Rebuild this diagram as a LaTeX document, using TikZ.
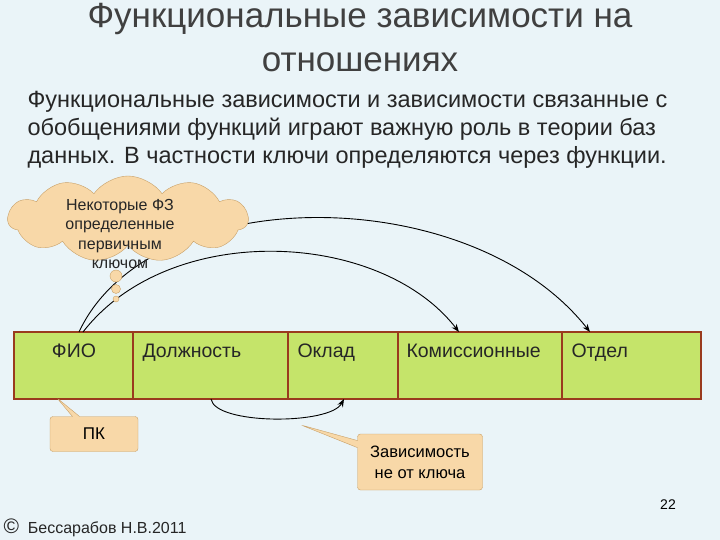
\documentclass[tikz,border=0pt]{standalone}
\usepackage{fontspec}
\setmainfont{Liberation Sans}
\usetikzlibrary{shapes.symbols,shapes.callouts,arrows.meta}
\definecolor{bg}{HTML}{EAF4F8}
\definecolor{cellg}{HTML}{C5E46A}
\definecolor{cellb}{HTML}{9A3A1E}
\definecolor{call}{HTML}{F8D8A8}
\definecolor{callb}{HTML}{C8A068}
\tikzset{
lbl/.style={font=\fontsize{19.5}{21}\selectfont,text=black!85},
arr/.style={-{Stealth[length=8pt,width=6pt]},black,line width=0.9pt}}
\begin{document}
\begin{tikzpicture}[x=1pt,y=-1pt]
\fill[bg] (0,0) rectangle (720,540);
\useasboundingbox (0,0) rectangle (720,540);
\node[font=\fontsize{35}{44}\selectfont,text=black!75,align=center] (title) at (360,38) {Функциональные зависимости на\\отношениях};
\node[font=\fontsize{23.5}{28}\selectfont,align=left,anchor=north west,text=black!85] (body) at (24,88) {Функциональные зависимости и зависимости связанные с\\обобщениями функций играют важную роль в теории баз\\данных. В частности ключи определяются через функции.};
% table
\foreach \n/\a/\b in {c1/14/133, c2/133/288, c3/288/398, c4/398/562, c5/562/701}{
  \path[draw=cellb,line width=1.4pt,fill=cellg] (\a,332) rectangle (\b,399);
  \coordinate (\n) at (\a,332);
}
\node[lbl,anchor=base] (t1) at (74,357) {ФИО};
\node[lbl,anchor=base west] (t2) at (139,357) {Должность};
\node[lbl,anchor=base west] (t3) at (294,357) {Оклад};
\node[lbl,anchor=base west] (t4) at (403,357) {Комиссионные};
\node[lbl,anchor=base west] (t5) at (568,357) {Отдел};
\coordinate (s1) at (79,332); \coordinate (s2) at (83,332);
\coordinate (e1) at (459,332); \coordinate (e2) at (590,332);
\draw[arr] (s2) .. controls (170,220) and (380,230) .. (e1);
\draw[arr] (s1) .. controls (150,180) and (470,180) .. (e2);
\coordinate (b1) at (211,399); \coordinate (b2) at (344,399);
\draw[arr] (b1) .. controls (215,425) and (330,425) .. (b2);
% cloud
\node[cloud,cloud puffs=11,cloud puff arc=110,aspect=2.8,draw=callb,fill=call,minimum width=240pt,minimum height=86pt] (cloud) at (128,219) {};
\node[font=\fontsize{16}{19.5}\selectfont,align=center,text=black!85] (ct) at (120,234) {Некоторые ФЗ\\определенные\\первичным\\ключом};
\foreach \y/\r in {276/6,289/4.5,299/3}{\draw[callb,fill=call] (116,\y) circle (\r);}
% callouts
\node[rectangle callout,rounded corners=3pt,draw=callb,fill=call,minimum width=88pt,minimum height=35pt,callout absolute pointer={(57,398)},font=\fontsize{17}{19}\selectfont] (pk) at (94,434) {ПК};
\node[rectangle callout,rounded corners=3pt,draw=callb,fill=call,minimum width=125pt,minimum height=56pt,callout absolute pointer={(301,425)},align=center,font=\fontsize{16.5}{21}\selectfont] (dep) at (420,462) {Зависимость\\не от ключа};
\node[font=\fontsize{14}{16}\selectfont] (pg) at (668,505) {22};
\node[font=\fontsize{16}{16}\selectfont,anchor=west,text=black!85] (auth) at (0,528) {\fontsize{21}{21}\selectfont©\fontsize{16}{16}\selectfont\ \ Бессарабов Н.В.2011};
\end{tikzpicture}
\end{document}
